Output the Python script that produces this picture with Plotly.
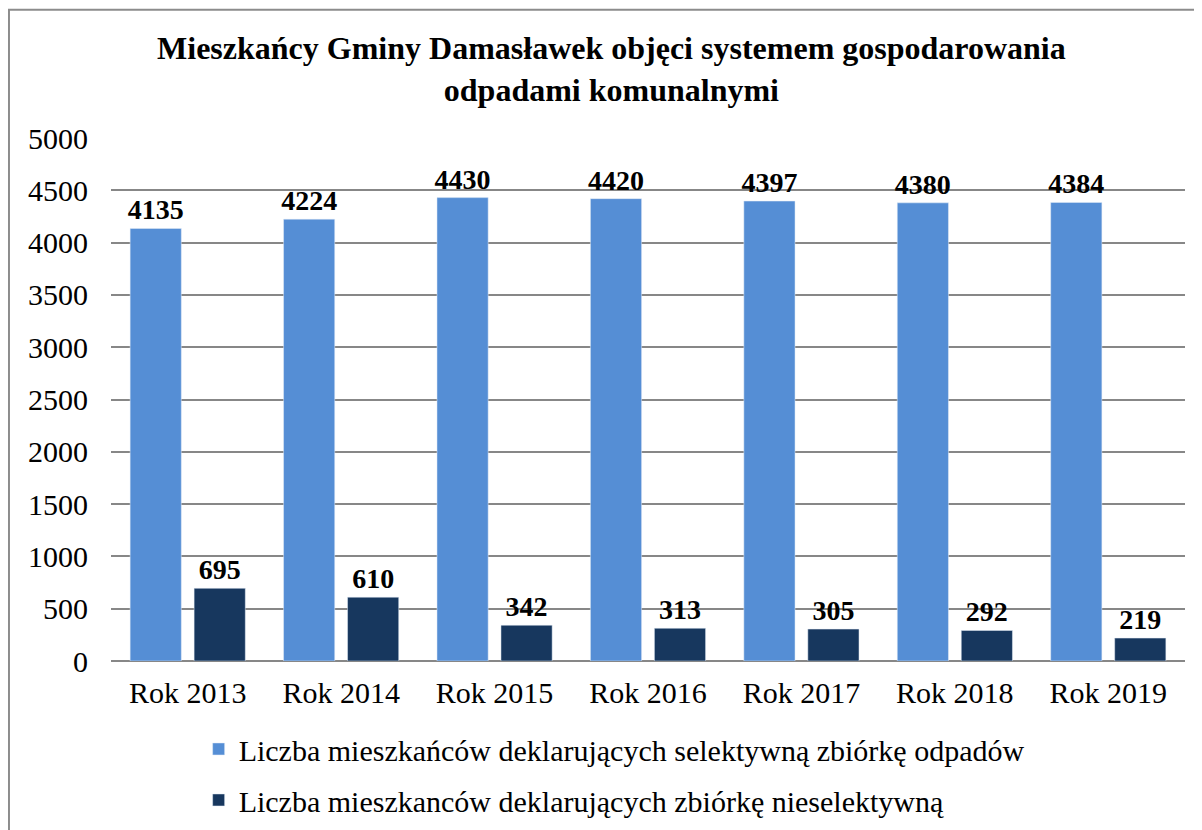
import plotly.graph_objects as go

years = ['Rok 2013', 'Rok 2014', 'Rok 2015', 'Rok 2016', 'Rok 2017', 'Rok 2018', 'Rok 2019']
selektywna = [4135, 4224, 4430, 4420, 4397, 4380, 4384]
nieselektywna = [695, 610, 342, 313, 305, 292, 219]
y_ticks = [0, 500, 1000, 1500, 2000, 2500, 3000, 3500, 4000, 4500, 5000]

serif = 'Liberation Serif, Times New Roman, serif'

fig = go.Figure()
fig.add_trace(go.Bar(x=years, y=selektywna,
                     name='Liczba mieszkańców deklarujących selektywną zbiórkę odpadów',
                     legendgroup='a',
                     marker=dict(color='#558ED5'),
                     text=selektywna, textposition='outside', cliponaxis=False, constraintext='none',
                     textfont=dict(family=serif, size=28, color='black', weight='bold')))
fig.add_trace(go.Bar(x=years, y=nieselektywna,
                     name='Liczba mieszkanców deklarujących zbiórkę nieselektywną',
                     legendgroup='b',
                     marker=dict(color='#17375E'),
                     text=nieselektywna, textposition='outside', cliponaxis=False, constraintext='none',
                     textfont=dict(family=serif, size=28, color='black', weight='bold')))

fig.update_layout(
    width=1202, height=830,
    paper_bgcolor='white', plot_bgcolor='white',
    font=dict(family=serif, size=30, color='black'),
    title=dict(text='<b>Mieszkańcy Gminy Damasławek objęci systemem gospodarowania<br>odpadami komunalnymi</b>',
               x=0.502, xanchor='center', y=0.938, yanchor='middle',
               font=dict(family=serif, size=32, color='black')),
    margin=dict(l=103, r=25, t=130, b=177, autoexpand=False),
    barmode='group', bargap=0.166, bargroupgap=0.2,
    showlegend=True,
    legend=dict(orientation='v', x=0.0816, xanchor='left', y=-0.1185, yanchor='top',
                font=dict(family=serif, size=30), tracegroupgap=9),
    xaxis=dict(showgrid=False, showline=False, ticks='', ticklabelstandoff=11, tickfont=dict(size=30)),
    yaxis=dict(range=[0, 5000], tickvals=y_ticks, showgrid=True, gridcolor='#878787', gridwidth=1.5,
               zeroline=True, zerolinecolor='#878787', zerolinewidth=1.5,
               ticklabelstandoff=22, tickfont=dict(size=30)),
)

fig.add_shape(type='rect', xref='paper', yref='paper', x0=-0.095, x1=1.2, y0=-0.5, y1=1.245,
              line=dict(color='#8C8C8C', width=2), fillcolor='rgba(0,0,0,0)', layer='above')

fig.write_html("out.html")
